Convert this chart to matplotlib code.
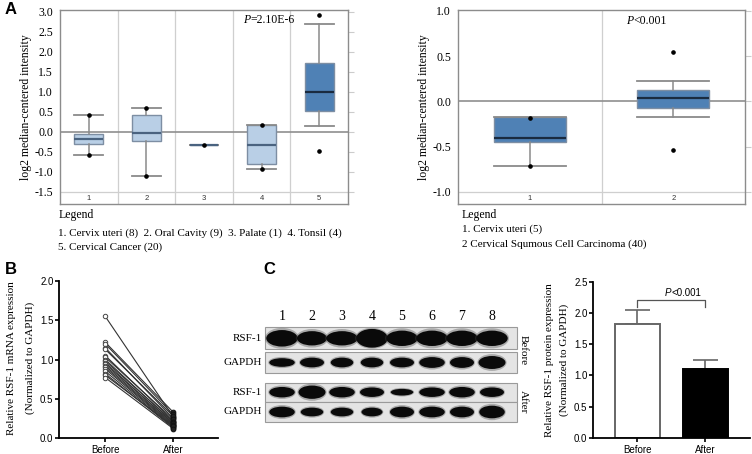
import matplotlib
matplotlib.use('Agg')
import matplotlib.pyplot as plt
from matplotlib.patches import Ellipse, Rectangle

plt.rcParams['axes.unicode_minus'] = False

W, H = 752, 454
SERIF = 'Liberation Serif'
SANS = 'Liberation Sans'

# ---- panel A (left): 5 groups
a1_q1 = [-0.31, -0.23, -0.33, -0.79, 0.52]
a1_med = [-0.17, -0.03, -0.33, -0.33, 1.01]
a1_q3 = [-0.06, 0.42, -0.33, 0.17, 1.73]
a1_lo = [-0.58, -1.10, -0.33, -0.93, 0.14]
a1_hi = [0.42, 0.59, -0.33, 0.17, 2.71]
a1_dots = [[0.42, -0.58], [0.59, -1.10], [-0.33], [0.17, -0.93], [2.93, -0.48]]
a1_yticks = [3.0, 2.5, 2.0, 1.5, 1.0, 0.5, 0.0, -0.5, -1.0, -1.5]

# ---- panel A (right): 2 groups
a2_q1 = [-0.45, -0.077]
a2_med = [-0.40, 0.033]
a2_q3 = [-0.177, 0.125]
a2_lo = [-0.71, -0.17]
a2_hi = [-0.177, 0.23]
a2_dots = [[-0.18, -0.71], [0.55, -0.54]]
a2_yticks = [1.0, 0.5, 0.0, -0.5, -1.0]

# ---- panel B: paired mRNA values
b_before = [1.55, 1.22, 1.20, 1.15, 1.13, 1.05, 1.03, 1.00, 0.98, 0.96,
            0.94, 0.92, 0.90, 0.88, 0.85, 0.82, 0.80, 0.77]
b_after = [0.27, 0.33, 0.30, 0.25, 0.28, 0.22, 0.24, 0.20, 0.21, 0.18,
           0.19, 0.17, 0.16, 0.15, 0.14, 0.13, 0.15, 0.12]
b_groups = ['Before', 'After']

# ---- panel C: blot band sizes (width, height as fraction of lane/row)
lanes = ['1', '2', '3', '4', '5', '6', '7', '8']
rsf_b_w = [1.05, 1.0, 1.05, 1.05, 1.05, 1.05, 1.05, 1.05]
rsf_b_h = [0.75, 0.65, 0.65, 0.85, 0.7, 0.7, 0.7, 0.7]
gap_b_w = [0.85, 0.8, 0.75, 0.75, 0.8, 0.85, 0.8, 0.9]
gap_b_h = [0.4, 0.45, 0.45, 0.45, 0.45, 0.5, 0.5, 0.6]
rsf_a_w = [0.85, 0.9, 0.85, 0.8, 0.75, 0.85, 0.85, 0.8]
rsf_a_h = [0.55, 0.7, 0.55, 0.5, 0.35, 0.5, 0.55, 0.5]
gap_a_w = [0.85, 0.75, 0.75, 0.7, 0.8, 0.85, 0.8, 0.85]
gap_a_h = [0.55, 0.45, 0.45, 0.45, 0.55, 0.55, 0.55, 0.65]

# ---- panel C: protein bar chart
c_means = [1.82, 1.10]
c_err = [0.22, 0.14]

fig = plt.figure(figsize=(W / 100, H / 100), dpi=100)


def add_ax(x0, y0, x1, y1):
    return fig.add_axes([x0 / W, 1 - y1 / H, (x1 - x0) / W, (y1 - y0) / H])


def ftext(x, y, s, **kw):
    fig.text(x / W, 1 - y / H, s, **kw)


def box_panel(ax, q1, med, q3, lo, hi, dots, fills, meds, yticks, ylim, lab_y):
    stats = [dict(q1=a, med=m, q3=b, whislo=l, whishi=h, fliers=[])
             for a, m, b, l, h in zip(q1, med, q3, lo, hi)]
    n = len(stats)
    ax.set_xlim(0.5, n + 0.5)
    ax.set_ylim(*ylim)
    for i in range(1, n):
        ax.axvline(i + 0.5, color='#cfcfcf', lw=0.9, zorder=0)
    ax.axhline(yticks[-1], color='#cfcfcf', lw=0.9, zorder=0)
    ax.axhline(0, color='#8f8f8f', lw=1.2, zorder=1)
    bp = ax.bxp(stats, positions=range(1, n + 1), widths=0.5, capwidths=0.5,
                patch_artist=True, showfliers=False, manage_ticks=False,
                boxprops=dict(edgecolor='#7d8ea3', linewidth=1),
                medianprops=dict(linewidth=1.6),
                whiskerprops=dict(color='#8a8a8a', linewidth=1.1),
                capprops=dict(color='#8a8a8a', linewidth=1.3))
    for patch, f in zip(bp['boxes'], fills):
        patch.set_facecolor(f)
    for line, c in zip(bp['medians'], meds):
        line.set_color(c)
    for i, d in enumerate(dots):
        ax.plot([i + 1] * len(d), d, 'o', color='k', ms=2.3, zorder=5)
    for s in ax.spines.values():
        s.set_color('#8c8c8c')
        s.set_linewidth(1)
    ax.set_xticks([])
    ax.set_yticks(yticks)
    ax.set_yticklabels([f'{v:.1f}' for v in yticks], family=SERIF, fontsize=8.5)
    ax.tick_params(axis='y', left=False, right=True, length=4, color='#cccccc', pad=1)
    for i in range(n):
        ax.text(i + 1, lab_y, str(i + 1), ha='center', va='center',
                fontsize=5.5, family=SANS, color='#333333')
    ax.set_ylabel('log2 median-centered intensity', family=SERIF, fontsize=8.5, labelpad=2)


# ---------- A left
LIGHT, DARK = '#b9cfe6', '#4f81b5'
ax1 = add_ax(60, 10, 348, 204)
box_panel(ax1, a1_q1, a1_med, a1_q3, a1_lo, a1_hi, a1_dots,
          [LIGHT] * 4 + [DARK], ['#4a6380'] * 4 + ['#1a2b40'],
          a1_yticks, (-1.8, 3.05), -1.675)
ax1.text(3.80, 2.8, 'P', ha='right', va='center', style='italic', family=SERIF, fontsize=8.5)
ax1.text(3.80, 2.8, '=2.10E-6', ha='left', va='center', family=SERIF, fontsize=8.5)

# ---------- A right
ax2 = add_ax(458, 10, 745, 204)
box_panel(ax2, a2_q1, a2_med, a2_q3, a2_lo, a2_hi, a2_dots,
          [DARK, DARK], ['#1a2b40', '#1a2b40'],
          a2_yticks, (-1.133, 1.011), -1.077)
ax2.text(1.72, 0.89, 'P', ha='right', va='center', style='italic', family=SERIF, fontsize=8.5)
ax2.text(1.72, 0.89, '<0.001', ha='left', va='center', family=SERIF, fontsize=8.5)

# legends
ftext(59, 215, 'Legend', family=SERIF, fontsize=8.5, va='center')
ftext(58, 233, '1. Cervix uteri (8)  2. Oral Cavity (9)  3. Palate (1)  4. Tonsil (4)',
      family=SERIF, fontsize=8, va='center')
ftext(58, 247, '5. Cervical Cancer (20)', family=SERIF, fontsize=8, va='center')
ftext(462, 215, 'Legend', family=SERIF, fontsize=8.5, va='center')
ftext(462, 229, '1. Cervix uteri (5)', family=SERIF, fontsize=8, va='center')
ftext(462, 244, '2 Cervical Squmous Cell Carcinoma (40)', family=SERIF, fontsize=8, va='center')

# ---------- B
axb = add_ax(59, 281, 218, 438)
for bv, av in zip(b_before, b_after):
    axb.plot([0, 1], [bv, av], color='#333333', lw=0.8)
axb.plot([0] * len(b_before), b_before, 'o', mfc='white', mec='#444444', ms=3.2, mew=0.7)
axb.plot([1] * len(b_after), b_after, 'o', mfc='#222222', mec='#111111', ms=3.4, mew=0.7)
axb.set_xlim(-0.68, 1.66)
axb.set_ylim(0, 2.0)
axb.set_yticks([0, 0.5, 1.0, 1.5, 2.0])
axb.set_yticklabels(['0.0', '0.5', '1.0', '1.5', '2.0'], family=SANS, fontsize=7)
axb.set_xticks([0, 1])
axb.set_xticklabels(b_groups, family=SANS, fontsize=7)
axb.spines[['top', 'right']].set_visible(False)
for s in ['left', 'bottom']:
    axb.spines[s].set_linewidth(1.3)
axb.tick_params(axis='y', length=3, width=1.2, pad=1)
axb.tick_params(axis='x', length=3, width=1.2, pad=2)
ftext(12, 358, 'Relative RSF-1 mRNA expression', family=SERIF, fontsize=8,
      rotation=90, ha='center', va='center')
ftext(30, 358, '(Normalized to GAPDH)', family=SERIF, fontsize=8,
      rotation=90, ha='center', va='center')

# ---------- C blot
axw = add_ax(225, 310, 540, 425)
axw.set_xlim(-40, 275)
axw.set_ylim(115, 0)
axw.axis('off')
lane_dx = 30.0
rows = [(17.3, 22.0, rsf_b_w, rsf_b_h, 'RSF-1'),
        (41.7, 21.6, gap_b_w, gap_b_h, 'GAPDH'),
        (72.7, 19.0, rsf_a_w, rsf_a_h, 'RSF-1'),
        (92.3, 19.4, gap_a_w, gap_a_h, 'GAPDH')]
for top, hgt, ws, hs, name in rows:
    axw.add_patch(Rectangle((0, top), 252, hgt, fc='#e4e4e4', ec='#9a9a9a', lw=0.8))
    for i, (w, h) in enumerate(zip(ws, hs)):
        cx, cy = 17 + i * lane_dx, top + hgt / 2
        # soft halo + dark core to mimic film blur
        axw.add_patch(Ellipse((cx, cy), w * lane_dx * 1.08, min(h * hgt * 1.3, hgt * 0.95),
                              fc='#404040', ec='none', alpha=0.35))
        axw.add_patch(Ellipse((cx, cy), w * lane_dx, h * hgt, fc='#0a0a0a', ec='none'))
    axw.text(-3, top + hgt / 2, name, ha='right', va='center', family=SERIF, fontsize=8)
for i, lab in enumerate(lanes):
    axw.text(17 + i * lane_dx, 7, lab, ha='center', va='center', family=SERIF, fontsize=10)
axw.text(258, 40, 'Before', rotation=-90, ha='center', va='center', family=SERIF, fontsize=8)
axw.text(258, 92, 'After', rotation=-90, ha='center', va='center', family=SERIF, fontsize=8)

# ---------- C bars
axc = add_ax(593, 281.5, 750, 438)
axc.bar([0, 1], c_means, width=0.66, color=['white', 'black'],
        edgecolor=['#666666', 'black'], linewidth=1.4, zorder=2)
axc.errorbar([0, 1], c_means, yerr=[[0, 0], c_err], fmt='none', ecolor='#666666',
             elinewidth=1.2, capsize=9, capthick=1.2, zorder=1)
axc.plot([0, 0, 1, 1], [2.1, 2.2, 2.2, 2.1], color='#555555', lw=0.9)
axc.text(0.5, 2.24, 'P', ha='right', va='bottom', style='italic', family=SANS, fontsize=7)
axc.text(0.5, 2.24, '<0.001', ha='left', va='bottom', family=SANS, fontsize=7)
axc.set_xlim(-0.65, 1.66)
axc.set_ylim(0, 2.5)
axc.set_yticks([0, 0.5, 1.0, 1.5, 2.0, 2.5])
axc.set_yticklabels(['0.0', '0.5', '1.0', '1.5', '2.0', '2.5'], family=SANS, fontsize=7)
axc.set_xticks([0, 1])
axc.set_xticklabels(b_groups, family=SANS, fontsize=7)
axc.spines[['top', 'right']].set_visible(False)
for s in ['left', 'bottom']:
    axc.spines[s].set_linewidth(1.3)
axc.tick_params(axis='y', length=3, width=1.2, pad=1)
axc.tick_params(axis='x', length=3, width=1.2, pad=2)
ftext(549, 360, 'Relative RSF-1 protein expression', family=SERIF, fontsize=8,
      rotation=90, ha='center', va='center')
ftext(564, 360, '(Normalized to GAPDH)', family=SERIF, fontsize=8,
      rotation=90, ha='center', va='center')

# panel letters
ftext(5, 10, 'A', family=SANS, fontsize=12, weight='bold', va='center')
ftext(5, 270, 'B', family=SANS, fontsize=12, weight='bold', va='center')
ftext(263, 270, 'C', family=SANS, fontsize=12, weight='bold', va='center')

fig.savefig('out.png', dpi=100)
